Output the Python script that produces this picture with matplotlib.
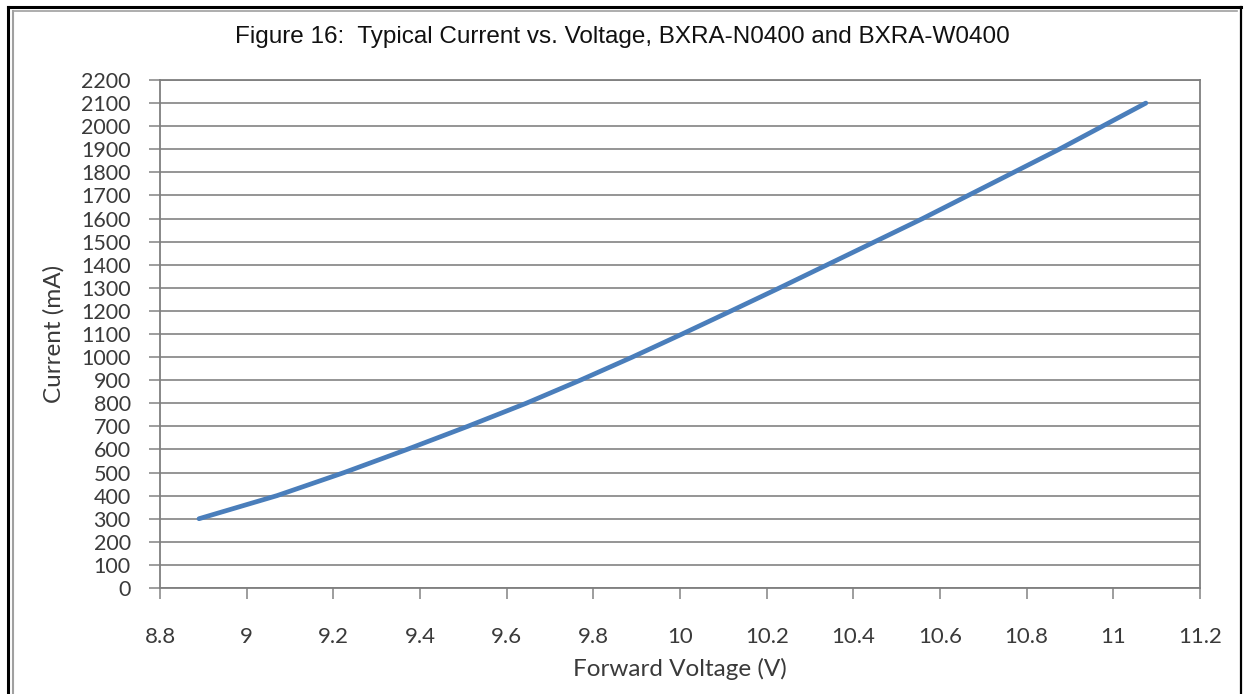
import numpy as np
import matplotlib
matplotlib.use('Agg')
import matplotlib.pyplot as plt
from matplotlib.lines import Line2D

# Datos
voltage = [8.89, 9.07, 9.225, 9.37, 9.51, 9.645, 9.77, 9.89, 10.005, 10.118,
           10.23, 10.34, 10.45, 10.56, 10.665, 10.77, 10.875, 10.975, 11.075]
current = [300, 400, 500, 600, 700, 800, 900, 1000, 1100, 1200,
           1300, 1400, 1500, 1600, 1700, 1800, 1900, 2000, 2100]

x_ticks = [8.8, 9.0, 9.2, 9.4, 9.6, 9.8, 10.0, 10.2, 10.4, 10.6, 10.8, 11.0, 11.2]
x_labels = ['8.8', '9', '9.2', '9.4', '9.6', '9.8', '10', '10.2', '10.4', '10.6', '10.8', '11', '11.2']
y_ticks = list(range(0, 2201, 100))

title = 'Figure 16:  Typical Current vs. Voltage, BXRA-N0400 and BXRA-W0400'
line_color = '#4a7ebb'
grid_color = '#8c8c8c'
label_font = ['Lato', 'DejaVu Sans']

W, H = 1244, 694
fig = plt.figure(figsize=(W / 100, H / 100), dpi=100)
ax = fig.add_axes([160 / W, 1 - 588 / H, 1040 / W, 508 / H])

ax.plot(voltage, current, color=line_color, lw=3.4, solid_capstyle='round')

ax.set_xlim(8.8, 11.2)
ax.set_ylim(0, 2200)
ax.set_xticks(x_ticks)
ax.set_xticklabels(x_labels, fontsize=16, family=label_font, color='#3a3a3a')
ax.set_yticks(y_ticks)
ax.set_yticklabels([str(v) for v in y_ticks], fontsize=15.5, family=label_font, color='#3a3a3a')
ax.tick_params(axis='y', length=8, width=1.2, color=grid_color, pad=13)
ax.tick_params(axis='x', length=8, width=1.2, color=grid_color, pad=20)

ax.grid(axis='y', color=grid_color, lw=1.3)
ax.set_axisbelow(True)
for s in ax.spines.values():
    s.set_color('#7f7f7f')
    s.set_linewidth(1.3)

ax.set_xlabel('Forward Voltage (V)', fontsize=17.5, family=label_font, color='#3a3a3a', labelpad=8)
ax.set_ylabel('Current (mA)', fontsize=17.5, family=label_font, color='#3a3a3a', labelpad=12)

fig.text(0.5, 1 - 37 / H, title, ha='center', va='center', fontsize=17.5,
         family=['Liberation Sans', 'DejaVu Sans'], color='#111111')

# marco de la figura
px = lambda v: v / W
py = lambda v: 1 - v / H
fig.add_artist(Line2D([px(8), px(8)], [py(7), 0], color='black', lw=2.2))
fig.add_artist(Line2D([px(8), px(1241)], [py(7), py(7)], color='black', lw=2.2))
fig.add_artist(Line2D([px(1241), px(1241)], [py(7), 0], color='black', lw=1.6))
fig.add_artist(Line2D([px(13), px(13)], [py(11), 0], color='#a0a0a0', lw=1.5))
fig.add_artist(Line2D([px(13), px(1237)], [py(11), py(11)], color='#a0a0a0', lw=1.2))

fig.savefig('out.png', dpi=100)
